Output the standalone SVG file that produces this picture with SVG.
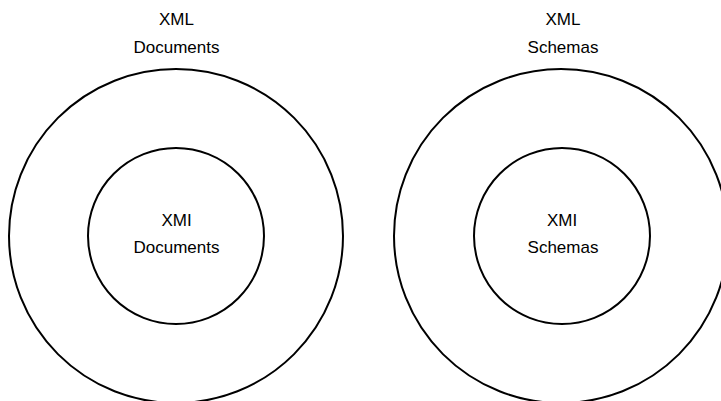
<svg xmlns="http://www.w3.org/2000/svg" width="721" height="401" viewBox="0 0 721 401">
  <style>
    .ring { fill: none; stroke: #000; stroke-width: 2; }
    .label { font-family: "Liberation Sans", Arial, sans-serif; font-size: 17px; fill: #000; text-anchor: middle; }
  </style>
  <rect width="721" height="401" fill="#fff"/>

  <!-- XML Documents containing XMI Documents -->
  <g id="xml-documents">
    <circle class="ring" cx="176" cy="236" r="167"/>
    <text class="label" x="176.5" y="25">XML</text>
    <text class="label" x="176.5" y="53">Documents</text>
  </g>
  <g id="xmi-documents">
    <circle class="ring" cx="176" cy="236" r="88"/>
    <text class="label" x="176.5" y="226">XMI</text>
    <text class="label" x="176.5" y="253">Documents</text>
  </g>

  <!-- XML Schemas containing XMI Schemas -->
  <g id="xml-schemas">
    <circle class="ring" cx="561" cy="236" r="167"/>
    <text class="label" x="563" y="25">XML</text>
    <text class="label" x="563" y="53">Schemas</text>
  </g>
  <g id="xmi-schemas">
    <circle class="ring" cx="562" cy="236" r="88"/>
    <text class="label" x="562" y="226">XMI</text>
    <text class="label" x="563" y="253">Schemas</text>
  </g>

  <g id="connectors"/>
</svg>
